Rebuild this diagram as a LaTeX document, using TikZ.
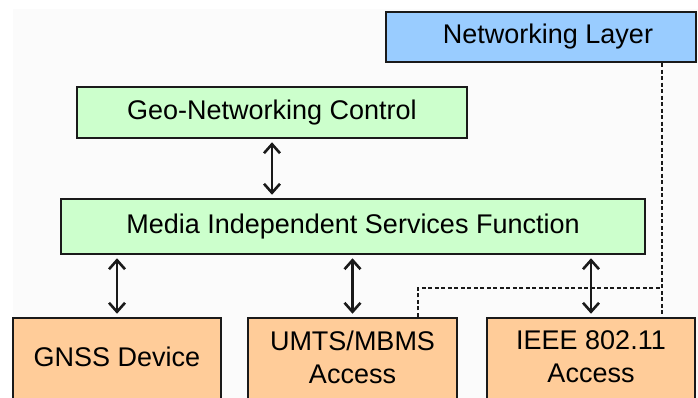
\documentclass[tikz,border=0pt]{standalone}
\usepackage{fontspec}
\setmainfont{Liberation Sans}
\usepackage{tikz}
\usetikzlibrary{positioning, arrows.meta}
\definecolor{netblue}{HTML}{99CCFF}
\definecolor{ctrlgreen}{HTML}{CCFFCC}
\definecolor{accorange}{HTML}{FFCC99}
\definecolor{edgegray}{HTML}{1A1A1A}
\definecolor{paper}{HTML}{FBFBFB}
\tikzset{
  layerbox/.style={draw=edgegray, line width=2.5pt, align=center, inner sep=0pt,
                   font=\fontsize{27}{33}\selectfont},
  accbox/.style={layerbox, fill=accorange, minimum height=86pt, text depth=8pt},
  dualarr/.style={{Straight Barb[length=9pt,width=16pt]}-{Straight Barb[length=9pt,width=16pt]},
                  line width=2.6pt, shorten <=3pt, shorten >=3pt, edgegray},
  tapline/.style={line width=2.8pt, dash pattern=on 4pt off 2.5pt, edgegray}
}

\begin{document}
\begin{tikzpicture}[x=1pt, y=-1pt]
  \useasboundingbox (0,0) rectangle (698,398);
  \clip (0,0) rectangle (698,398);
  \fill[paper] (13,9) rectangle (698,398);

  \node[layerbox, fill=netblue, minimum width=310pt, minimum height=50pt] (nl) at (541,37) {\hspace*{14pt}Networking Layer};
  \node[layerbox, fill=ctrlgreen, minimum width=390pt, minimum height=51pt] (geo) at (272,112.5) {Geo-Networking Control};
  \node[layerbox, fill=ctrlgreen, minimum width=584pt, minimum height=55pt] (misf) at (353,226.5) {Media Independent Services Function};
  \node[accbox, minimum width=208pt] (gnss) at (117,361) {GNSS Device};
  \node[accbox, minimum width=209pt] (umts) at (352.5,361) {UMTS/MBMS\\Access};
  \node[accbox, minimum width=208pt] (ieee) at (591,361) {IEEE 802.11\\Access};

  % service links
  \draw[dualarr] (geo.south) -- (geo.south |- misf.north);
  \draw[dualarr] (gnss.north) -- (gnss.north |- misf.south);
  \draw[dualarr] (umts.north) -- (umts.north |- misf.south);
  \draw[dualarr] (ieee.north) -- (ieee.north |- misf.south);

  % networking layer taps
  \coordinate (tap) at (662,288);
  \coordinate (bend) at (418,288);
  \draw[tapline] (nl.south -| tap) -- (ieee.north -| tap);
  \draw[tapline] (umts.north -| bend) -- (bend) -- (tap);
\end{tikzpicture}
\end{document}
